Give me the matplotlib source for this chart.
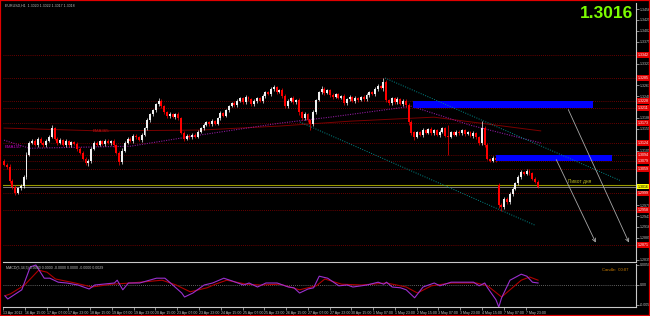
import numpy as np
import matplotlib.pyplot as plt
from matplotlib.patches import Rectangle
from matplotlib.transforms import blended_transform_factory

# EURUSD, 13 Apr - 7 May 2012, one candle per two hours, prices in 1e-4
closes = [
    13070, 13065, 13030, 13015, 13000, 13012, 13018, 13040, 13095, 13125,
    13130, 13120, 13135, 13125, 13118, 13130, 13140, 13160, 13135, 13125,
    13132, 13120, 13128, 13118, 13126, 13122, 13110, 13100, 13085, 13075,
    13080, 13110, 13125, 13120, 13128, 13122, 13130, 13124, 13128, 13118,
    13100, 13078, 13105, 13125, 13135, 13130, 13142, 13138, 13132, 13145,
    13160, 13180, 13195, 13205, 13220, 13228, 13215, 13200, 13190, 13195,
    13188, 13195, 13185, 13150, 13135, 13142, 13138, 13145, 13140, 13152,
    13160, 13168, 13175, 13170, 13178, 13172, 13185, 13198, 13192, 13205,
    13215, 13222, 13218, 13228, 13235, 13225, 13238, 13232, 13220, 13228,
    13235, 13228, 13240, 13250, 13245, 13258, 13262, 13250, 13255, 13240,
    13215, 13228, 13235, 13225, 13230, 13200, 13185, 13195, 13180, 13170,
    13200, 13230, 13250, 13258, 13248, 13255, 13242, 13238, 13245, 13236,
    13240, 13222, 13232, 13238, 13228, 13235, 13230, 13238, 13232, 13242,
    13250, 13246, 13258, 13265, 13260, 13275, 13230, 13222, 13235, 13225,
    13232, 13220, 13228, 13218, 13175, 13150, 13140, 13150, 13145, 13155,
    13150, 13158, 13148, 13155, 13145, 13152, 13160, 13142, 13140, 13150,
    13145, 13152, 13148, 13155, 13146, 13150, 13142, 13148, 13138, 13125,
    13160, 13120, 13085, 13080, 13088, 13082, 12970, 12965, 12985, 12978,
    12998, 13010, 13025, 13040, 13052, 13048, 13055, 13050, 13035, 13028,
    13016,
]
wicks = [
    4, 5, 6, 4, 5, 3, 4, 5, 6, 4, 3, 4, 5, 3, 4, 5, 3, 4, 3, 5,
    4, 3, 5, 4, 3, 4, 5, 3, 4, 5, 4, 5, 3, 4, 3, 4, 5, 3, 4, 5,
    4, 5, 6, 4, 3, 4, 5, 4, 3, 5, 4, 5, 4, 3, 4, 5, 4, 3, 4, 5,
    3, 4, 5, 4, 3, 4, 5, 3, 4, 3, 4, 5, 3, 4, 5, 3, 4, 5, 4, 3,
    4, 3, 5, 4, 3, 4, 5, 3, 4, 5, 4, 3, 5, 4, 3, 4, 5, 4, 3, 5,
    5, 4, 3, 5, 4, 6, 4, 5, 3, 4, 5, 4, 3, 4, 5, 3, 4, 5, 3, 4,
    4, 5, 3, 4, 3, 5, 4, 3, 4, 5, 4, 3, 5, 4, 3, 6, 5, 4, 3, 4,
    5, 3, 4, 5, 6, 5, 4, 3, 4, 5, 3, 4, 5, 3, 4, 5, 3, 4, 6, 4,
    3, 4, 5, 3, 4, 3, 4, 5, 3, 4, 5, 6, 4, 3, 4, 5, 6, 5, 4, 5,
    4, 5, 3, 4, 5, 3, 4, 5, 3, 4, 4,
]
first_open = 13080
gap_opens = {176: 13020}
spike_hi = {17: 13168, 55: 13235, 96: 13268, 113: 13265, 135: 13285, 158: 13168, 170: 13178}
spike_lo = {4: 12995, 30: 13068, 41: 13070, 64: 13128, 109: 13156, 146: 13131,
            158: 13094, 169: 13119, 177: 12955, 190: 13012}

time_labels = ['13 Apr 2012', '16 Apr 15:00', '17 Apr 07:00', '17 Apr 23:00', '18 Apr 15:00',
               '19 Apr 07:00', '19 Apr 23:00', '20 Apr 15:00', '23 Apr 07:00', '23 Apr 23:00',
               '24 Apr 15:00', '25 Apr 07:00', '25 Apr 23:00', '26 Apr 15:00', '27 Apr 07:00',
               '27 Apr 23:00', '30 Apr 15:00', '1 May 07:00', '1 May 23:00', '2 May 15:00',
               '3 May 07:00', '3 May 23:00', '4 May 15:00', '7 May 07:00', '7 May 23:00']

price_ticks = [1.3456, 1.3429, 1.3402, 1.3375, 1.3348, 1.3321, 1.3294, 1.3267, 1.3240, 1.3213,
               1.3186, 1.3159, 1.3132, 1.3105, 1.3078, 1.3051, 1.3024, 1.2997, 1.2970, 1.2943,
               1.2916, 1.2889, 1.2862, 1.2835]
levels = [1.3342, 1.3285, 1.3228, 1.3211, 1.3173, 1.3124, 1.3094, 1.3079, 1.3059, 1.2999, 1.2958, 1.2871]
bid = 1.3016
pivot = 1.3021

ema150_bars = [0, 9, 45, 70, 98, 116, 145, 166, 191]
ema150 = [13131, 13111, 13116, 13144, 13173, 13188, 13215, 13168, 13124]
ema365_bars = [0, 34, 70, 98, 123, 153, 191]
ema365 = [13161, 13154, 13156, 13166, 13178, 13188, 13154]

# drawn objects: (bar, price) anchors
zones = [((145.6, 1.3211), (209.6, 1.3228)), ((175.1, 1.3079), (216.4, 1.3094))]
channel = [((135.6, 1.3285), (219.6, 1.3030)), ((105.3, 1.3176), (189.0, 1.2920))]
arrows = [((200.4, 1.3213), (222.8, 1.2871)), ((196.1, 1.3089), (211.0, 1.2871))]

macd_bars = [0, 1, 6, 9, 11, 14, 16, 19, 22, 26, 30, 32, 39, 40, 42, 44, 48, 54, 57, 59,
             63, 64, 67, 71, 74, 78, 81, 85, 87, 90, 93, 97, 101, 103, 105, 108, 110, 112, 115, 119,
             122, 124, 129, 133, 135, 136, 138, 141, 143, 146, 149, 153, 155, 159, 164, 167, 169, 171, 172, 175,
             176, 177, 180, 184, 186, 188, 190]
macd_main = [-27, -35, -12, 45, 50, 17, 17, 7, 5, 0, -10, 0, 5, 12, -12, 5, 5, 17, 17, 5,
             -20, -30, -20, 0, 5, 17, 10, 0, 5, -5, 5, 5, -5, -7, -20, -10, -7, 22, 17, -2,
             0, -5, 0, 7, 2, 7, -5, -7, -12, -32, -5, 5, -2, 7, 7, 7, -2, 5, -7, -37,
             -55, -32, 12, 27, 22, 7, 5]
sig_bars = [0, 2, 7, 12, 15, 18, 25, 31, 38, 45, 56, 61, 66, 72, 75, 79, 86, 91, 98, 105,
            111, 114, 120, 127, 136, 143, 147, 152, 159, 168, 172, 177, 180, 184, 187, 190]
macd_signal = [-27, -22, 0, 37, 32, 15, 5, -5, 2, 5, 12, 0, -17, -7, 2, 12, 2, 0, 2, -12,
               -2, 15, 2, 0, 5, -5, -20, -2, 5, 5, -2, -30, -12, 12, 20, 12]

GRAY = '#c0c0c0'
SMALL = 2.6
plt.rcParams['font.family'] = ['Liberation Sans', 'DejaVu Sans']

fig = plt.figure(figsize=(6.5, 3.16), dpi=100, facecolor='black')
ax = fig.add_axes([3 / 650, 54 / 316, 633 / 650, 259 / 316], facecolor='black')
ax2 = fig.add_axes([3 / 650, 9 / 316, 633 / 650, 43 / 316], facecolor='black')

# candles
c = np.array(closes) / 1e4
o = np.r_[first_open, closes[:-1]].astype(float) / 1e4
for i, v in gap_opens.items():
    o[i] = v / 1e4
w = np.array(wicks) / 1e4
hi = np.maximum(o, c) + w
lo = np.minimum(o, c) - w
for i, v in spike_hi.items():
    hi[i] = v / 1e4
for i, v in spike_lo.items():
    lo[i] = v / 1e4
x = np.arange(len(c))
cols = np.where(c >= o, '#f0f0f0', '#ff0000')

# level lines first so candles sit on top
for lvl in levels:
    ax.axhline(lvl, color='#8b0000', lw=0.6, ls=(0, (1, 1.5)), zorder=1)
ax.axhline(pivot, color='#9a9a00', lw=0.8, zorder=1)
ax.axhline(bid, color='#909090', lw=0.6, zorder=1)

ax.plot(np.array(ema365_bars), np.array(ema365) / 1e4, color='#7a0000', lw=0.7, zorder=2)
ax.plot(np.array(ema150_bars), np.array(ema150) / 1e4, color='#8a1a9a', lw=0.8,
        ls=(0, (1, 1.2)), zorder=2)

ax.vlines(x, lo, hi, colors=cols, lw=0.5, zorder=3)
ax.bar(x, np.maximum(np.abs(c - o), 0.00006), bottom=np.minimum(o, c), width=0.7,
       color=cols, lw=0, zorder=4)

for (x0, y0), (x1, y1) in zones:
    ax.add_patch(Rectangle((x0, y0), x1 - x0, y1 - y0, color='#0000ff', lw=0, zorder=5))
for (x0, y0), (x1, y1) in channel:
    ax.plot([x0, x1], [y0, y1], color='#008b8b', lw=0.7, ls=(0, (1, 1.5)), zorder=5)
for (x0, y0), (x1, y1) in arrows:
    ax.annotate('', xy=(x1, y1), xytext=(x0, y0),
                arrowprops=dict(arrowstyle='->', color='#a8a8a8', lw=0.6, mutation_scale=6),
                zorder=6)

ax.text(0.3, 1.3114, 'EMA150', color='#c000c0', fontsize=3.2, va='center', zorder=7)
ax.text(31.5, 1.3153, 'EMA365', color='#c01010', fontsize=3.2, va='center', zorder=7)
ax.text(200.7, pivot + 0.0001, 'Пивот дня', color='#b8b820', fontsize=3.4, va='bottom', zorder=7)

ax.set_xlim(-0.36, 224.9)
ax.set_ylim(1.2829, 1.3471)
ax.set_xticks([])
ax.yaxis.tick_right()
# gray scale labels, except where a red level label covers them
shown = [t for t in price_ticks if min(abs(t - l) for l in levels + [bid]) > 0.0009]
ax.set_yticks(shown)
ax.set_yticklabels([f'{t:.4f}' for t in shown])
ax.tick_params(axis='y', colors=GRAY, labelsize=SMALL, length=2, width=0.5, pad=1)
for s in ['top', 'left']:
    ax.spines[s].set_visible(False)
for s in ['bottom', 'right']:
    ax.spines[s].set_color('#c8c8c8')
    ax.spines[s].set_linewidth(0.8)

tr = blended_transform_factory(ax.transAxes, ax.transData)
for lvl in levels:
    ax.text(1.002, lvl, f'{lvl:.4f}', transform=tr, fontsize=SMALL, color='white', va='center',
            ha='left', bbox=dict(boxstyle='square,pad=0.2', fc='#e00000', ec='none'), clip_on=False)
ax.text(1.002, bid, f'{bid:.4f}', transform=tr, fontsize=SMALL, color='black', va='center',
        ha='left', bbox=dict(boxstyle='square,pad=0.2', fc='#ffff00', ec='none'), clip_on=False)

# MACD panel
ax2.axhline(0, color='#808080', lw=0.6, ls=(0, (1, 1.5)))
ax2.plot(sig_bars, np.array(macd_signal) / 1e4, color='#b00000', lw=0.8)
ax2.plot(macd_bars, np.array(macd_main) / 1e4, color='#9b30d0', lw=0.8)
ax2.set_xlim(-0.36, 224.9)
ax2.set_ylim(-0.0055, 0.00525)
ax2.yaxis.tick_right()
ax2.set_yticks([0.0050, 0.0, -0.0050])
ax2.set_yticklabels(['0.0050', '0.00', '-0.005'])
label_pos = np.arange(len(time_labels)) * 7.76 - 0.7
ax2.set_xticks(label_pos)
ax2.set_xticklabels(time_labels)
for t in ax2.get_xticklabels():
    t.set_ha('left')
ax2.tick_params(colors=GRAY, labelsize=SMALL, length=2, width=0.5, pad=1)
for s in ['top', 'left']:
    ax2.spines[s].set_visible(False)
for s in ['bottom', 'right']:
    ax2.spines[s].set_color('#c8c8c8')
    ax2.spines[s].set_linewidth(0.8)
ax2.text(0.005, 0.95, 'MACD(5,34,5) 0.0000 0.0000 -0.0000 0.0000 -0.0000 0.0029',
         transform=ax2.transAxes, color=GRAY, fontsize=SMALL, va='top')
ax2.text(0.947, 0.9, 'Candle:  00:07', transform=ax2.transAxes, color='#d08000',
         fontsize=3.0, va='top')

fig.text(5 / 650, 1 - 4 / 316, 'EURUSD,H1  1.3020 1.3022 1.3017 1.3018', color=GRAY,
         fontsize=SMALL, va='top')
fig.text(633 / 650, 1 - 18.5 / 316, '1.3016', color='#7cfc00', fontsize=12.5,
         fontweight='bold', ha='right', va='baseline')

fig.patches.append(Rectangle((0, 0), 1, 1, transform=fig.transFigure, fill=False,
                             edgecolor='#e00000', lw=1.6))

fig.savefig('out.png', dpi=100, facecolor='black')
